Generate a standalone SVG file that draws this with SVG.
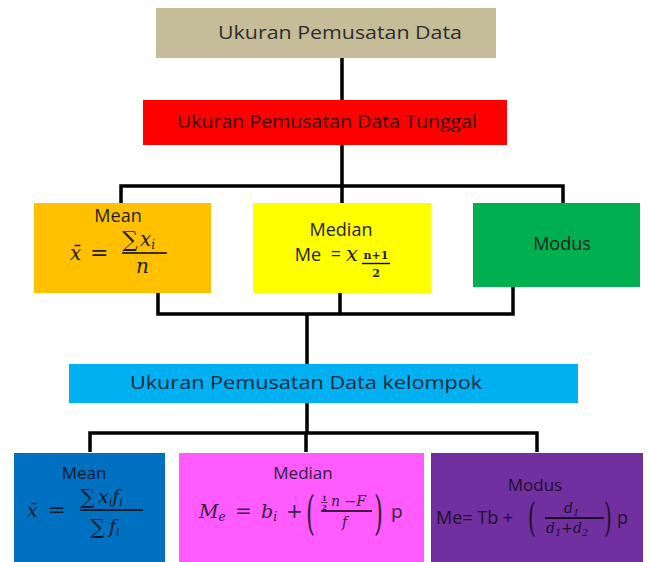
<svg xmlns="http://www.w3.org/2000/svg" width="651" height="562" viewBox="0 0 651 562">
<style>
.lbl{font-family:"Open Sans","Lato","Liberation Sans",sans-serif;text-anchor:middle}
.m{font-family:"DejaVu Serif","Liberation Serif",serif;font-style:italic}
.up{font-family:"DejaVu Serif","Liberation Serif",serif;font-style:normal}
.conn{fill:none;stroke:#000;stroke-width:3.5;stroke-linejoin:miter;stroke-linecap:butt}
.bar{stroke-width:1.4}
</style>
<rect width="651" height="562" fill="#fff"/>
<g id="connectors" class="conn">
<path d="M342 58V100M342 145V186M121 203V186H563V203M342 186V203"/>
<path d="M158 293V314H513V287M340 293V314M307 314V364"/>
<path d="M307 403V433M90 452V433H537V452M306 433V452"/>
</g>
<g id="root">
<rect x="156" y="8" width="340" height="50" fill="#c4bd97"/>
<text class="lbl" x="340" y="39" font-size="19" fill="#2e2e2e" textLength="244" lengthAdjust="spacingAndGlyphs">Ukuran Pemusatan Data</text>
</g>
<g id="tunggal">
<rect x="143" y="100" width="364" height="45" fill="#ff0000"/>
<text class="lbl" x="327" y="128" font-size="18" fill="#3a0000" textLength="300" lengthAdjust="spacingAndGlyphs">Ukuran Pemusatan  Data Tunggal</text>
</g>
<g id="mean1">
<rect x="34" y="203" width="177" height="90" fill="#ffc000"/>
<text class="lbl" x="118" y="222" font-size="18" fill="#1e1e1e">Mean</text>
<text class="m" x="70" y="260" font-size="20" fill="#1e1e1e">x̄</text>
<text class="up" x="90" y="260" font-size="22" fill="#1e1e1e">=</text>
<text class="up" x="122" y="247" font-size="22" fill="#1e1e1e">∑</text>
<text class="m" x="140" y="246" font-size="20" fill="#1e1e1e">x<tspan font-size="12" dy="3">i</tspan></text>
<line class="conn bar" x1="122" y1="253" x2="167" y2="253" stroke="#1e1e1e"/>
<text class="m" x="136" y="273" font-size="20" fill="#1e1e1e">n</text>
</g>
<g id="median1">
<rect x="253" y="203" width="178" height="90" fill="#ffff00"/>
<text class="lbl" x="341" y="236" font-size="18" fill="#1e1e1e">Median</text>
<text class="lbl" x="308" y="261" font-size="18" fill="#1e1e1e">Me</text>
<text class="lbl" x="336" y="260" font-size="18" fill="#1e1e1e">=</text>
<text class="m" x="346" y="261" font-size="21" fill="#1e1e1e">x</text>
<text class="up" x="376" y="259" font-size="11" font-weight="bold" fill="#1e1e1e" text-anchor="middle">n+1</text>
<line class="conn bar" x1="362" y1="263.5" x2="390" y2="263.5" stroke="#1e1e1e"/>
<text class="up" x="376" y="277" font-size="11" font-weight="bold" fill="#1e1e1e" text-anchor="middle">2</text>
</g>
<g id="modus1">
<rect x="473" y="203" width="167" height="84" fill="#00b050"/>
<text class="lbl" x="562" y="250" font-size="18" fill="#1e1e1e">Modus</text>
</g>
<g id="kelompok">
<rect x="69" y="364" width="509" height="39" fill="#00b0f0"/>
<text class="lbl" x="306" y="389" font-size="18" fill="#0b2a3d" textLength="352" lengthAdjust="spacingAndGlyphs">Ukuran Pemusatan Data kelompok</text>
</g>
<g id="mean2">
<rect x="14" y="453" width="151" height="109" fill="#0070c0"/>
<text class="lbl" x="84" y="479" font-size="17" fill="#0d1b2e">Mean</text>
<text class="m" x="27" y="517" font-size="19" fill="#0d1b2e">x̄</text>
<text class="up" x="48" y="517" font-size="21" fill="#0d1b2e">=</text>
<text class="up" x="80" y="504" font-size="21" fill="#0d1b2e">∑</text>
<text class="m" x="98" y="503" font-size="19" fill="#0d1b2e">x<tspan font-size="11" dy="3">i</tspan><tspan dy="-3">f</tspan><tspan font-size="11" dy="3">i</tspan></text>
<line class="conn bar" x1="80" y1="510" x2="143" y2="510" stroke="#0d1b2e"/>
<text class="up" x="90" y="534" font-size="21" fill="#0d1b2e">∑</text>
<text class="m" x="109" y="533" font-size="19" fill="#0d1b2e">f<tspan font-size="11" dy="3">i</tspan></text>
</g>
<g id="median2">
<rect x="179" y="453" width="245" height="109" fill="#ff5bff"/>
<text class="lbl" x="303" y="479" font-size="17" fill="#33203a">Median</text>
<text class="m" x="199" y="518" font-size="19" fill="#33203a">M<tspan font-size="12" dy="3">e</tspan></text>
<text class="up" x="235" y="518" font-size="20" fill="#33203a">=</text>
<text class="m" x="261" y="518" font-size="19" fill="#33203a">b<tspan font-size="12" dy="3">i</tspan></text>
<text class="up" x="286" y="518" font-size="20" fill="#33203a">+</text>
<text class="up" x="306" y="529" font-size="46" fill="#33203a" transform="translate(306 0) scale(0.5 1) translate(-306 0)">(</text>
<text class="up" x="322" y="500.5" font-size="7" font-weight="bold" fill="#33203a">1</text>
<line x1="321" y1="502.5" x2="327.5" y2="502.5" stroke="#33203a" stroke-width="0.8"/>
<text class="up" x="322" y="510" font-size="7" font-weight="bold" fill="#33203a">2</text>
<text class="m" x="331" y="506" font-size="14" fill="#33203a">n  −F</text>
<line class="conn bar" x1="321" y1="511" x2="372" y2="511" stroke="#33203a"/>
<text class="m" x="342" y="527" font-size="14" fill="#33203a">f</text>
<text class="up" x="374" y="529" font-size="46" fill="#33203a" transform="translate(374 0) scale(0.5 1) translate(-374 0)">)</text>
<text x="391" y="518" font-size="19" fill="#33203a" font-family="Open Sans, sans-serif">p</text>
</g>
<g id="modus2">
<rect x="431" y="453" width="212" height="109" fill="#7030a0"/>
<text class="lbl" x="535" y="491" font-size="17" fill="#1e0f2a">Modus</text>
<text x="436" y="524" font-size="18" fill="#1e0f2a" font-family="Open Sans, sans-serif">Me= Tb +</text>
<text class="up" x="528" y="531" font-size="40" fill="#1e0f2a" transform="translate(528 0) scale(0.5 1) translate(-528 0)">(</text>
<text class="m" x="564" y="513" font-size="14" fill="#1e0f2a">d<tspan font-size="10" dy="3">1</tspan></text>
<line class="conn bar" x1="545" y1="518" x2="604" y2="518" stroke="#1e0f2a"/>
<text class="m" x="546" y="533" font-size="14" fill="#1e0f2a">d<tspan font-size="10" dy="3">1</tspan><tspan dy="-3" font-style="normal">+</tspan>d<tspan font-size="10" dy="3">2</tspan></text>
<text class="up" x="604" y="531" font-size="40" fill="#1e0f2a" transform="translate(604 0) scale(0.5 1) translate(-604 0)">)</text>
<text x="617" y="524" font-size="18" fill="#1e0f2a" font-family="Open Sans, sans-serif">p</text>
</g>
</svg>
